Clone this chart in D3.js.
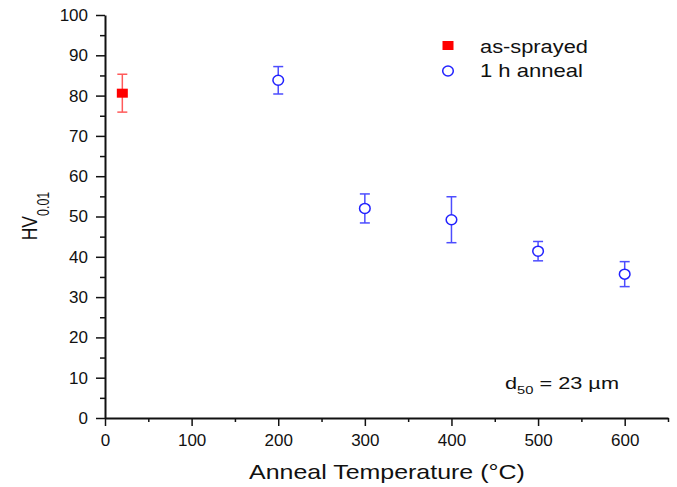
<!DOCTYPE html>
<html>
<head>
<meta charset="utf-8">
<script src="https://cdn.jsdelivr.net/npm/d3@7"></script>
<style>
  body { margin: 0; background: #fff; }
  text { font-family: "Liberation Sans", Arial, sans-serif; fill: #111; }
</style>
</head>
<body>
<div id="chart"></div>
<script>
// as-sprayed point
const sprayedTemp = [20];
const sprayedHV = [80.6];
const sprayedErr = [4.7];

// 1 h anneal points
const annealTemp = [200, 300, 400, 500, 600];
const annealHV = [83.8, 52.0, 49.2, 41.4, 35.7];
const annealErr = [3.4, 3.6, 5.7, 2.4, 3.1];

const xTicks = [0, 100, 200, 300, 400, 500, 600];
const yTicks = [0, 10, 20, 30, 40, 50, 60, 70, 80, 90, 100];

const W = 677, H = 487;
const svg = d3.select("#chart").append("svg")
    .attr("width", W).attr("height", H);

const x = d3.scaleLinear().domain([0, 650]).range([105, 668]);
const y = d3.scaleLinear().domain([0, 100]).range([418, 15]);

// stretch a text horizontally so it spans [left, left + width] (the original is wide)
function stretchTo(sel, left, width) {
    const b = sel.node().getBBox();
    const k = width / b.width;
    sel.attr("transform", `translate(${left},0) scale(${k},1) translate(${-b.x},0)`);
}

// Axes
svg.append("g").attr("transform", `translate(0,${y(0)})`)
    .call(d3.axisBottom(x).tickValues(xTicks).tickSize(8).tickPadding(8).tickSizeOuter(0));
svg.append("g").attr("transform", `translate(0,${y(0)})`)
    .call(d3.axisBottom(x).tickValues(d3.range(50, 651, 100)).tickSize(4).tickFormat("").tickSizeOuter(0))
    .select(".domain").remove();

svg.append("g").attr("transform", `translate(${x(0)},0)`)
    .call(d3.axisLeft(y).tickValues(yTicks).tickSize(9).tickPadding(8).tickSizeOuter(0));
svg.append("g").attr("transform", `translate(${x(0)},0)`)
    .call(d3.axisLeft(y).tickValues(d3.range(5, 100, 10)).tickSize(5).tickFormat("").tickSizeOuter(0))
    .select(".domain").remove();

svg.selectAll(".domain").attr("stroke", "#111").attr("stroke-width", 2);
svg.selectAll(".tick line").attr("stroke", "#111").attr("stroke-width", 1.5);
svg.selectAll(".tick text").style("font-size", "17px").attr("fill", "#111");

// Axis titles
const xt = svg.append("text")
    .attr("x", 249).attr("y", 479)
    .style("font-size", "20.5px")
    .text("Anneal Temperature (°C)");
stretchTo(xt, 249, 276);

const yt = svg.append("text")
    .attr("transform", "translate(36.7,216) scale(1.25,1) rotate(-90)")
    .attr("text-anchor", "middle")
    .style("font-size", "17.5px");
yt.append("tspan").text("HV");
yt.append("tspan").attr("dy", 10).style("font-size", "12.5px").text("0.01");

// Error bars
function errorBars(data, color) {
    const g = svg.append("g").attr("stroke", color).attr("stroke-width", 1.5);
    g.selectAll(".v").data(data).join("line")
        .attr("x1", d => x(d.t)).attr("x2", d => x(d.t))
        .attr("y1", d => y(d.v + d.e)).attr("y2", d => y(d.v - d.e));
    g.selectAll(".top").data(data).join("line")
        .attr("x1", d => x(d.t) - 5).attr("x2", d => x(d.t) + 5)
        .attr("y1", d => y(d.v + d.e)).attr("y2", d => y(d.v + d.e));
    g.selectAll(".bot").data(data).join("line")
        .attr("x1", d => x(d.t) - 5).attr("x2", d => x(d.t) + 5)
        .attr("y1", d => y(d.v - d.e)).attr("y2", d => y(d.v - d.e));
}

const sprayed = sprayedTemp.map((t, i) => ({ t, v: sprayedHV[i], e: sprayedErr[i] }));
const anneal = annealTemp.map((t, i) => ({ t, v: annealHV[i], e: annealErr[i] }));

errorBars(sprayed, "#ff5a5a");
errorBars(anneal, "#4d4dff");

svg.append("g").selectAll("rect").data(sprayed).join("rect")
    .attr("x", d => x(d.t) - 5.5).attr("y", d => y(d.v) - 4.5)
    .attr("width", 11).attr("height", 9)
    .attr("fill", "#ff0000");

svg.append("g").selectAll("ellipse").data(anneal).join("ellipse")
    .attr("cx", d => x(d.t)).attr("cy", d => y(d.v))
    .attr("rx", 5.3).attr("ry", 5)
    .attr("fill", "#fff").attr("stroke", "#2222ff").attr("stroke-width", 1.5);

// Legend
svg.append("rect").attr("x", 442.5).attr("y", 41).attr("width", 11).attr("height", 9).attr("fill", "#ff0000");
const l1 = svg.append("text").attr("x", 480).attr("y", 53).style("font-size", "17.5px").text("as-sprayed");
stretchTo(l1, 480, 108);
svg.append("ellipse").attr("cx", 448).attr("cy", 71).attr("rx", 5.3).attr("ry", 5).attr("fill", "#fff")
    .attr("stroke", "#2222ff").attr("stroke-width", 1.5);
const l2 = svg.append("text").attr("x", 480).attr("y", 77).style("font-size", "17.5px").text("1 h anneal");
stretchTo(l2, 480, 103);

// Annotation
const ann = svg.append("text").attr("x", 505).attr("y", 389).style("font-size", "17px");
ann.append("tspan").text("d");
ann.append("tspan").attr("dy", 5).style("font-size", "11.5px").text("50");
ann.append("tspan").attr("dy", -5).text(" = 23 µm");
stretchTo(ann, 505, 114);
</script>
</body>
</html>
